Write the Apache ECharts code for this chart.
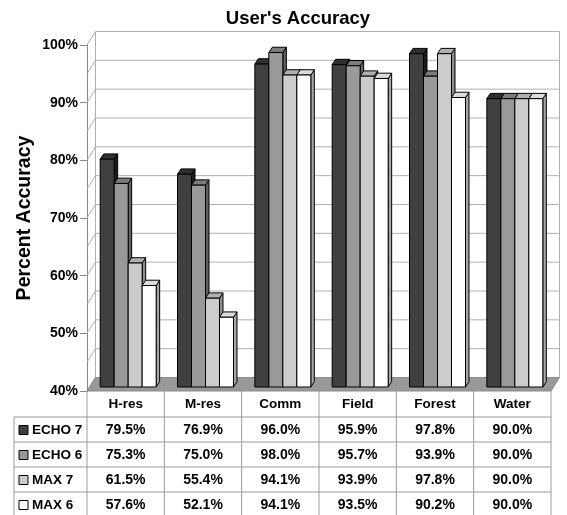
<!DOCTYPE html>
<html>
<head>
<meta charset="utf-8">
<script src="https://cdn.jsdelivr.net/npm/echarts@6/dist/echarts.min.js"></script>
<style>
  html, body { margin: 0; padding: 0; background: #fff; }
  #chart { width: 567px; height: 515px; }
</style>
</head>
<body>
<div id="chart"></div>
<script>
// ---- data ----
const categories = ['H-res', 'M-res', 'Comm', 'Field', 'Forest', 'Water'];
const seriesNames = ['ECHO 7', 'ECHO 6', 'MAX 7', 'MAX 6'];
const echo7 = [79.5, 76.9, 96.0, 95.9, 97.8, 90.0];
const echo6 = [75.3, 75.0, 98.0, 95.7, 93.9, 90.0];
const max7  = [61.5, 55.4, 94.1, 93.9, 97.8, 90.0];
const max6  = [57.6, 52.1, 94.1, 93.5, 90.2, 90.0];
const seriesValues = [echo7, echo6, max7, max6];
const wallTicks = [40, 45, 50, 55, 60, 65, 70, 75, 80, 85, 90, 95, 100];
const yMin = 40, yMax = 100, yStep = 10;

// ---- styling ----
const FONT = '"Liberation Sans", Arial, Helvetica, sans-serif';
// front, top and side face colours of each series
const faceColors = [
  ['#404040', '#303030', '#1c1c1c'],
  ['#999999', '#7c7c7c', '#616161'],
  ['#cccccc', '#b0b0b0', '#8e8e8e'],
  ['#ffffff', '#dcdcdc', '#a6a6a6']
];
// oblique projection of the depth direction
const WALL_DX = 8.5, WALL_DY = -13.5;  // front plane -> back wall
const BAR_X = 2.5, BAR_Y = -4;         // front plane -> bar front faces
const BAR_DX = 3.5, BAR_DY = -5.3;     // depth of a bar
const BAR_FRACTION = 0.181;            // bar width as a share of a category band
const GRID_COLOR = '#b0b0b0';
const TABLE_COLOR = '#9a9a9a';
const HEADER_H = 26, ROW_H = 25, LABEL_COL_W = 73;

const chart = echarts.init(document.getElementById('chart'), null, { renderer: 'canvas' });

// walls, floor and gridlines of the 3-D box
function wallRenderer(params, api) {
  const cs = params.coordSys;
  const x0 = cs.x, x1 = cs.x + cs.width;
  const yb = api.coord([0, yMin])[1];
  const lineStyle = { stroke: GRID_COLOR, lineWidth: 1 };
  const children = [];
  wallTicks.forEach(function (v) {
    const y = api.coord([0, v])[1];
    children.push({ type: 'line', shape: { x1: x0, y1: y, x2: x0 + WALL_DX, y2: y + WALL_DY }, style: lineStyle });
    children.push({ type: 'line', shape: { x1: x0 + WALL_DX, y1: y + WALL_DY, x2: x1 + WALL_DX, y2: y + WALL_DY }, style: lineStyle });
  });
  const yt = api.coord([0, yMax])[1];
  children.push({ type: 'line', shape: { x1: x0 + WALL_DX, y1: yt + WALL_DY, x2: x0 + WALL_DX, y2: yb + WALL_DY }, style: lineStyle });
  children.push({ type: 'line', shape: { x1: x1 + WALL_DX, y1: yt + WALL_DY, x2: x1 + WALL_DX, y2: yb + WALL_DY }, style: lineStyle });
  children.push({
    type: 'polygon',
    shape: { points: [[x0, yb], [x1, yb], [x1 + WALL_DX, yb + WALL_DY], [x0 + WALL_DX, yb + WALL_DY]] },
    style: { fill: '#999999', stroke: '#8a8a8a', lineWidth: 1 }
  });
  return { type: 'group', children: children };
}

// one 3-D column: side face, top face, front face
function barRenderer(si) {
  return function (params, api) {
    const ci = api.value(0), v = api.value(1);
    const band = api.size([1, 0])[0];
    const w = band * BAR_FRACTION;
    const top = api.coord([ci, v]);
    const base = api.coord([ci, yMin]);
    const xl = top[0] - 2 * w + si * w + BAR_X;
    const xr = xl + w;
    const yt = top[1] + BAR_Y, yb = base[1] + BAR_Y;
    const col = faceColors[si];
    const edge = { stroke: '#000', lineWidth: 1, lineJoin: 'round' };
    return {
      type: 'group',
      children: [
        { type: 'polygon', shape: { points: [[xr, yb], [xr, yt], [xr + BAR_DX, yt + BAR_DY], [xr + BAR_DX, yb + BAR_DY]] },
          style: Object.assign({ fill: col[2] }, edge) },
        { type: 'polygon', shape: { points: [[xl, yt], [xr, yt], [xr + BAR_DX, yt + BAR_DY], [xl + BAR_DX, yt + BAR_DY]] },
          style: Object.assign({ fill: col[1] }, edge) },
        { type: 'rect', shape: { x: xl, y: yt, width: w, height: yb - yt },
          style: Object.assign({ fill: col[0] }, edge) }
      ]
    };
  };
}

// data table under the plot: one column per category, legend keys in front
function tableRenderer(params, api) {
  const ci = api.value(0);
  const band = api.size([1, 0])[0];
  const p = api.coord([ci, yMin]);
  const cx = p[0], y0 = p[1];
  const xl = cx - band / 2, xr = cx + band / 2;
  const yEnd = y0 + HEADER_H + seriesNames.length * ROW_H;
  const line = { stroke: TABLE_COLOR, lineWidth: 1 };
  const textBase = { fontFamily: FONT, fontWeight: 'bold', fontSize: 13.5, fill: '#000', align: 'center', verticalAlign: 'middle' };
  const children = [];
  children.push({ type: 'text', style: Object.assign({ text: categories[ci], x: cx, y: y0 + HEADER_H / 2 }, textBase) });
  children.push({ type: 'line', shape: { x1: xr, y1: y0, x2: xr, y2: yEnd }, style: line });
  if (ci === 0) {
    const lx = xl - LABEL_COL_W;
    children.push({ type: 'line', shape: { x1: xl, y1: y0, x2: xl, y2: yEnd }, style: line });
    children.push({ type: 'line', shape: { x1: lx, y1: y0 + HEADER_H, x2: lx, y2: yEnd }, style: line });
  }
  seriesNames.forEach(function (name, r) {
    const rowTop = y0 + HEADER_H + r * ROW_H;
    const ry = rowTop + ROW_H / 2 + 1;
    children.push({ type: 'line', shape: { x1: xl, y1: rowTop, x2: xr, y2: rowTop }, style: line });
    children.push({ type: 'text', style: Object.assign({}, textBase, { text: seriesValues[r][ci].toFixed(1) + '%', x: cx, y: ry, fontSize: 14 }) });
    if (ci === 0) {
      const lx = xl - LABEL_COL_W;
      children.push({ type: 'line', shape: { x1: lx, y1: rowTop, x2: xl, y2: rowTop }, style: line });
      children.push({ type: 'rect', shape: { x: lx + 5, y: ry - 5, width: 9, height: 9 },
        style: { fill: faceColors[r][0], stroke: '#000', lineWidth: 1 } });
      children.push({ type: 'text', style: Object.assign({}, textBase, { text: name, x: lx + 18, y: ry, align: 'left' }) });
    }
  });
  return { type: 'group', children: children };
}

const series = [{
  type: 'custom',
  name: 'walls',
  renderItem: wallRenderer,
  data: [[0, yMin]],
  encode: { x: 0, y: 1 },
  silent: true,
  z: 1
}];
seriesValues.forEach(function (vals, si) {
  series.push({
    type: 'custom',
    name: seriesNames[si],
    renderItem: barRenderer(si),
    data: vals.map(function (v, i) { return [i, v]; }),
    encode: { x: 0, y: 1 },
    z: 3
  });
});
series.push({
  type: 'custom',
  name: 'table',
  renderItem: tableRenderer,
  data: categories.map(function (c, i) { return [i, yMin]; }),
  encode: { x: 0, y: 1 },
  silent: true,
  z: 4
});

chart.setOption({
  animation: false,
  backgroundColor: '#fff',
  title: {
    text: "User's Accuracy",
    left: 293,
    top: 4,
    textAlign: 'center',
    textStyle: { fontFamily: FONT, fontWeight: 'bold', fontSize: 18.5, color: '#000' }
  },
  grid: { left: 87, right: 16, top: 45, bottom: 124, containLabel: false },
  xAxis: {
    type: 'category',
    data: categories,
    boundaryGap: true,
    axisLine: { show: false },
    axisTick: { show: false },
    axisLabel: { show: false },
    splitLine: { show: false }
  },
  yAxis: {
    type: 'value',
    min: yMin,
    max: yMax,
    interval: yStep,
    axisLine: { show: true, lineStyle: { color: '#8a8a8a' } },
    axisTick: { show: true, length: 7, lineStyle: { color: '#8a8a8a' } },
    axisLabel: { formatter: '{value}%', fontFamily: FONT, fontWeight: 'bold', fontSize: 14, color: '#000', margin: 9 },
    splitLine: { show: false },
    name: 'Percent Accuracy',
    nameLocation: 'middle',
    nameRotate: 90,
    nameGap: 52,
    nameMoveOverlap: false,
    nameTextStyle: { fontFamily: FONT, fontWeight: 'bold', fontSize: 19.5, color: '#000' }
  },
  series: series
});
</script>
</body>
</html>
